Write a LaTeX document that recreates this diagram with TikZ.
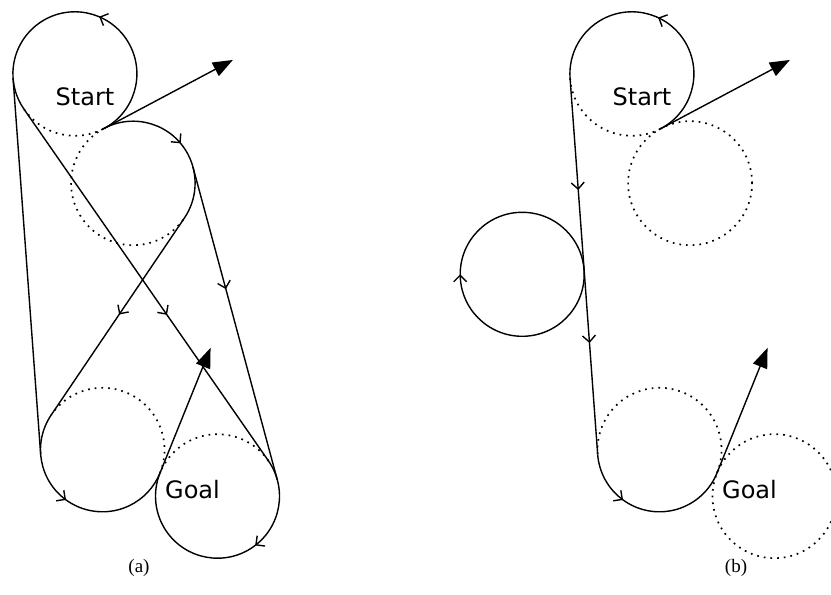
\documentclass[tikz,border=0pt]{standalone}
\usepackage{fontspec}
\newfontfamily\pathfont{DejaVu Sans}
\newfontfamily\capfont{Liberation Serif}
\usetikzlibrary{calc, arrows.meta, decorations.markings}

\tikzset{
  route/.style={line width=1.4pt},
  unused/.style={line width=1.7pt, dash pattern=on 1.7pt off 5pt},
  heading/.style={line width=1.4pt, -{Triangle[length=20pt,width=15pt]}},
  midarrow/.style={postaction={decorate, decoration={markings,
      mark=at position #1 with {\arrow{Straight Barb[length=6.5pt,width=13pt]}}}}},
  place/.style={font=\pathfont\fontsize{24}{29}\selectfont},
  caption/.style={font=\capfont\fontsize{19}{22}\selectfont}
}

\begin{document}
\begin{tikzpicture}[x=1pt, y=1pt]
  \useasboundingbox (0,0) rectangle (831,595);
  %% (a) -- all four candidate paths
  \coordinate (s) at (104,466.5);
  \coordinate (g) at (160,122);
  \coordinate (sl) at (74.9,521.2);
  \coordinate (sr) at (133.1,411.8);
  \coordinate (gl) at (102.5,145.2);
  \coordinate (gr) at (217.5,98.8);
  %% turning circles
  \draw[route, midarrow=0.466] ($(sl)+(-62:62)$) arc[start angle=-62, end angle=214.8, radius=62];
  \draw[unused] ($(sl)+(214.8:62)$) arc[start angle=214.8, end angle=298, radius=62];
  \draw[route, midarrow=0.513] ($(sr)+(118:62)$) arc[start angle=118, end angle=-34.07, radius=62];
  \draw[unused] ($(sr)+(118:62)$) arc[start angle=118, end angle=325.93, radius=62];
  \draw[route, midarrow=0.4585] ($(gl)+(145.93:62)$) arc[start angle=145.93, end angle=338, radius=62];
  \draw[unused] ($(gl)+(-22:62)$) arc[start angle=-22, end angle=145.93, radius=62];
  \draw[route, midarrow=0.369] ($(gr)+(34.8:62)$) arc[start angle=34.8, end angle=-202, radius=62];
  \draw[unused] ($(gr)+(34.8:62)$) arc[start angle=34.8, end angle=158, radius=62];
  %% straight segments
  \draw[route] ($(sl)+(184.2:62)$) -- ($(gl)+(184.2:62)$);
  \draw[route, midarrow=0.585] ($(sl)+(214.8:62)$) -- ($(gr)+(34.8:62)$);
  \draw[route, midarrow=0.39] ($(sr)+(15.1:62)$) -- ($(gr)+(15.1:62)$);
  \draw[route, midarrow=0.49] ($(sr)+(-34.07:62)$) -- ($(gl)+(145.93:62)$);
  %% headings
  \draw[heading] (s) -- ++(28:146);
  \draw[heading] (g) -- ++(68:135);
  \node[place] (starta) at (85,498) {Start};
  \node[place] (goala) at (192.5,105) {Goal};
  \node[caption] (capa) at (139,27) {(a)};

  %% (b) -- path with an extra loop
  \begin{scope}[xshift=557pt]
    \coordinate (s) at (104,466.5);
    \coordinate (g) at (160,122);
    \coordinate (sl) at (74.9,521.2);
    \coordinate (sr) at (133.1,411.8);
    \coordinate (gl) at (102.5,145.2);
    \coordinate (gr) at (217.5,98.8);
    \coordinate (loop) at (-34.8,320.7);
    \draw[route, midarrow=0.516] ($(sl)+(-62:62)$) arc[start angle=-62, end angle=184.2, radius=62];
    \draw[unused] ($(sl)+(184.2:62)$) arc[start angle=184.2, end angle=298, radius=62];
    \draw[unused] (sr) circle[radius=62];
    \draw[route, midarrow=0.297, midarrow=0.704] ($(sl)+(184.2:62)$) -- ($(gl)+(184.2:62)$);
    \draw[route, midarrow=0.5] ($(loop)+(0:62)$) arc[start angle=0, end angle=-360, radius=62];
    \draw[route, midarrow=0.324] ($(gl)+(184.2:62)$) arc[start angle=184.2, end angle=338, radius=62];
    \draw[unused] ($(gl)+(-22:62)$) arc[start angle=-22, end angle=184.2, radius=62];
    \draw[unused] (gr) circle[radius=62];
    \draw[heading] (s) -- ++(28:146);
    \draw[heading] (g) -- ++(68:135);
    \node[place] (startb) at (85,498) {Start};
    \node[place] (goalb) at (192.5,105) {Goal};
  \end{scope}
  \node[caption] (capb) at (736,27) {(b)};
\end{tikzpicture}
\end{document}
